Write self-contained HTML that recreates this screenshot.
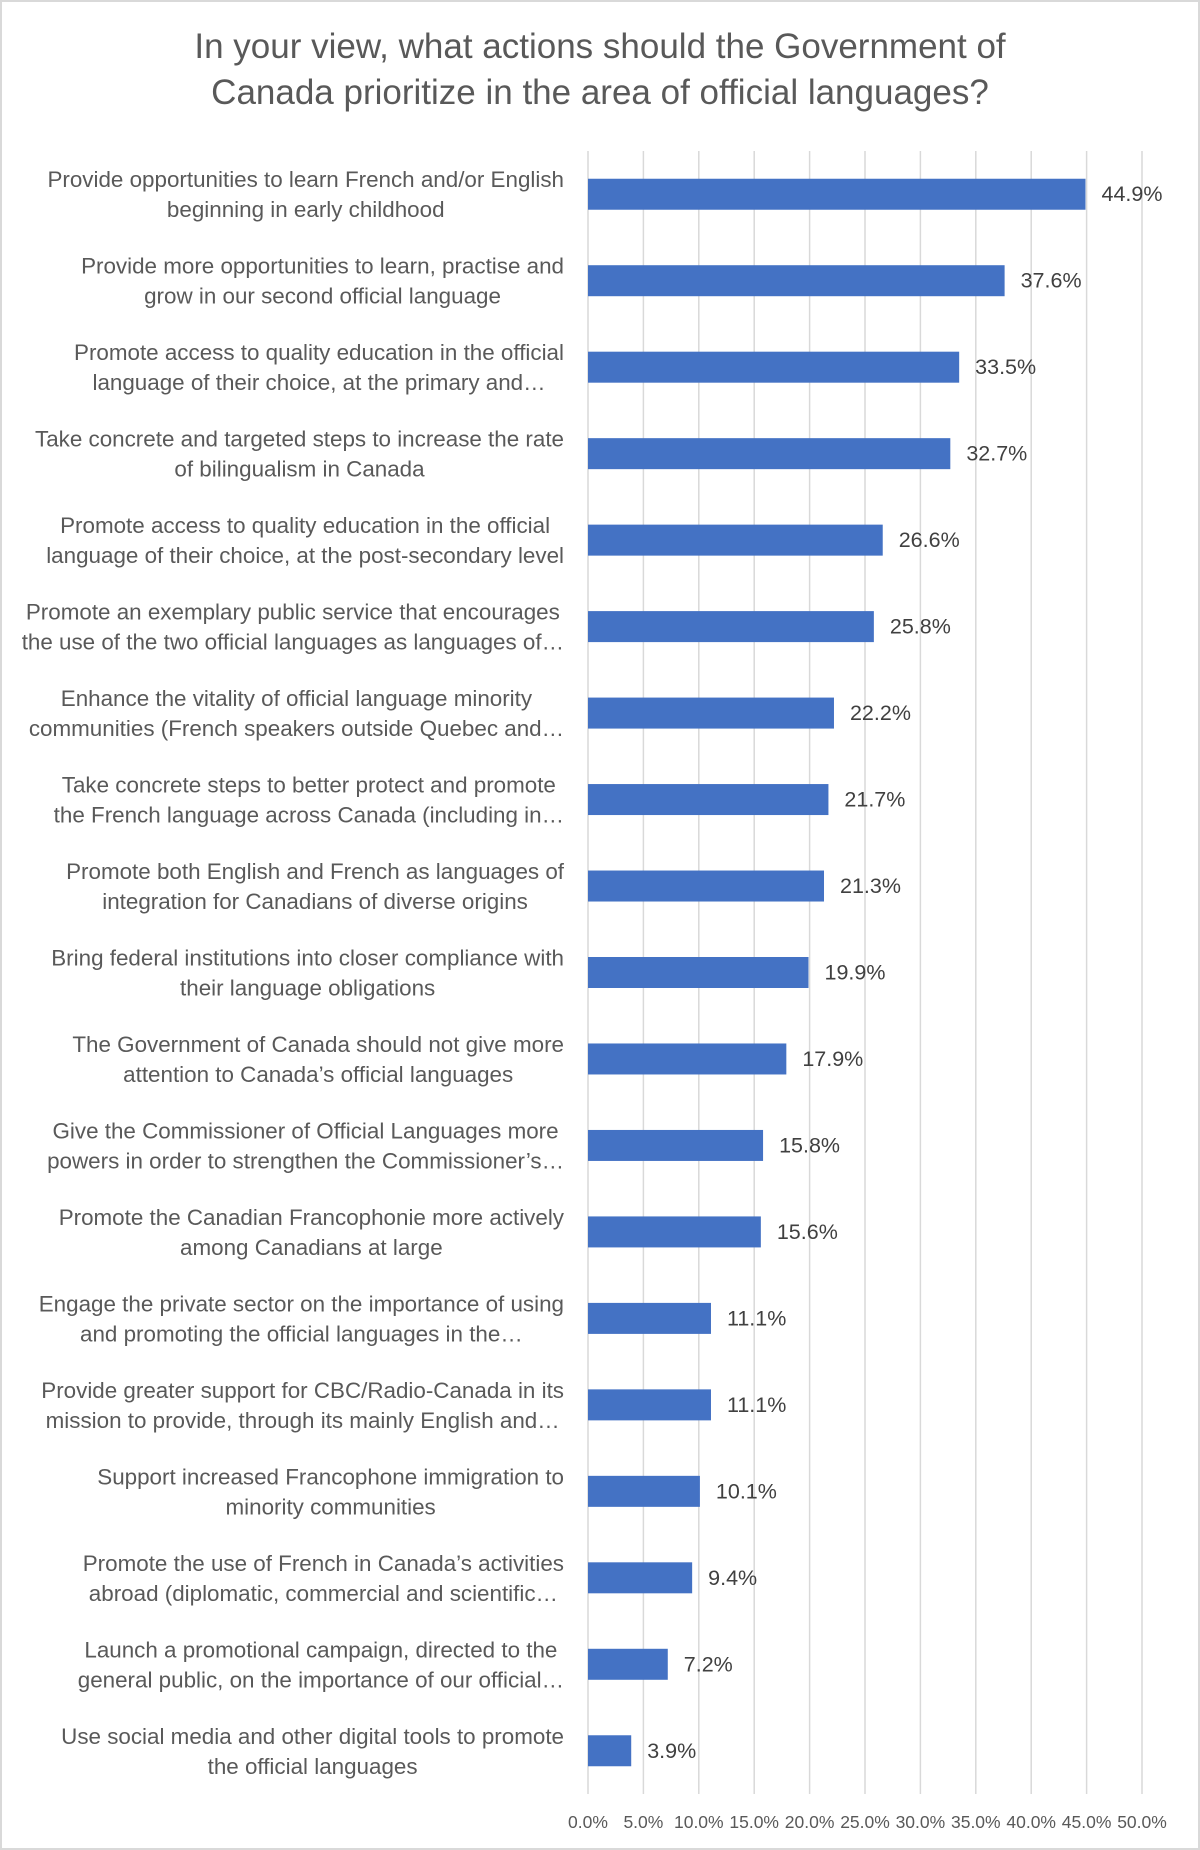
<!DOCTYPE html>
<html><head><meta charset="utf-8">
<style>
html,body{margin:0;padding:0;background:#fff}
svg{display:block;font-family:"Liberation Sans",sans-serif}
</style></head>
<body>
<svg id="chart" width="1200" height="1850" viewBox="0 0 1200 1850">
<rect x="1" y="1" width="1198" height="1848" fill="#fff" stroke="#d9d9d9" stroke-width="2"/>
<text x="600" y="58" text-anchor="middle" font-size="35" fill="#595959">In your view, what actions should the Government of</text>
<text x="600" y="104" text-anchor="middle" font-size="35" fill="#595959">Canada prioritize in the area of official languages?</text>
<g id="grid"></g><g id="bars"></g><g id="labels"></g><g id="ticks"></g>
</svg>
<script>
const categories = [
 ["Provide opportunities to learn French and/or English","beginning in early childhood"],
 ["Provide more opportunities to learn, practise and","grow in our second official language"],
 ["Promote access to quality education in the official","language of their choice, at the primary and…"],
 ["Take concrete and targeted steps to increase the rate","of bilingualism in Canada"],
 ["Promote access to quality education in the official","language of their choice, at the post-secondary level"],
 ["Promote an exemplary public service that encourages","the use of the two official languages as languages of…"],
 ["Enhance the vitality of official language minority","communities (French speakers outside Quebec and…"],
 ["Take concrete steps to better protect and promote","the French language across Canada (including in…"],
 ["Promote both English and French as languages of","integration for Canadians of diverse origins"],
 ["Bring federal institutions into closer compliance with","their language obligations"],
 ["The Government of Canada should not give more","attention to Canada’s official languages"],
 ["Give the Commissioner of Official Languages more","powers in order to strengthen the Commissioner’s…"],
 ["Promote the Canadian Francophonie more actively","among Canadians at large"],
 ["Engage the private sector on the importance of using","and promoting the official languages in the…"],
 ["Provide greater support for CBC/Radio-Canada in its","mission to provide, through its mainly English and…"],
 ["Support increased Francophone immigration to","minority communities"],
 ["Promote the use of French in Canada’s activities","abroad (diplomatic, commercial and scientific…"],
 ["Launch a promotional campaign, directed to the","general public, on the importance of our official…"],
 ["Use social media and other digital tools to promote","the official languages"]
];
const values = [44.9,37.6,33.5,32.7,26.6,25.8,22.2,21.7,21.3,19.9,17.9,15.8,15.6,11.1,11.1,10.1,9.4,7.2,3.9];
const tickValues = [0,5,10,15,20,25,30,35,40,45,50];
const tickLabels = ["0.0%","5.0%","10.0%","15.0%","20.0%","25.0%","30.0%","35.0%","40.0%","45.0%","50.0%"];

const NS="http://www.w3.org/2000/svg";
const X0=588, X1=1142, YTOP=151, YBOT=1794, XMAX=50;
const xs=v=>X0+(v/XMAX)*(X1-X0);
const band=(YBOT-YTOP)/categories.length;
const yc=i=>YTOP+band*(i+0.5);
const BH=31;
function mk(tag,attrs,parent){const e=document.createElementNS(NS,tag);for(const k in attrs)e.setAttribute(k,attrs[k]);parent.appendChild(e);return e;}
const grid=document.getElementById('grid'),bars=document.getElementById('bars'),labels=document.getElementById('labels'),ticks=document.getElementById('ticks');
tickValues.forEach((t,i)=>{
  const l=mk('line',{x1:xs(t),x2:xs(t),y1:YTOP,y2:YBOT,stroke:'#d9d9d9','stroke-width':1.5},grid);
  
  
  const tx=mk('text',{x:xs(t),y:1828,'text-anchor':'middle','font-size':17.5,fill:'#595959'},ticks);
  tx.textContent=tickLabels[i];
  
  
});
values.forEach((v,i)=>{
  const r=mk('rect',{x:X0,y:yc(i)-BH/2,width:xs(v)-X0,height:BH,fill:'#4472c4'},bars);
  
  
  const t=mk('text',{x:xs(v)+16,y:yc(i)+7,'font-size':21.5,fill:'#404040'},bars);
  t.textContent=v.toFixed(1)+'%';
  
  
  const g=mk('g',{},labels);
  
  
  const ts=categories[i].map((line,j)=>{
    const e=mk('text',{y:yc(i)-15+j*30+8,'font-size':22.4,fill:'#595959','text-anchor':'middle'},g);
    e.textContent=line;return e;});
  const w=Math.max(...ts.map(e=>e.getComputedTextLength()));
  ts.forEach(e=>e.setAttribute('x',564-w/2));
});
</script>
</body></html>
